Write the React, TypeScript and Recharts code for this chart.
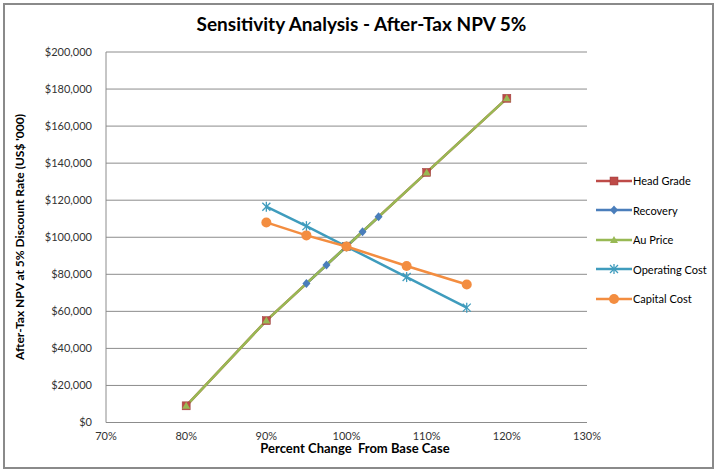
import React from 'react';
import { LineChart, Line, XAxis, YAxis, CartesianGrid, Legend } from 'recharts';

// percent change from base case (x) and after-tax NPV in US$ '000 (y)
const headGradePct = [80, 90, 100, 110, 120];
const headGradeNpv = [9000, 55000, 95000, 135000, 175000];

const recoveryPct = [95, 97.5, 100, 102, 104];
const recoveryNpv = [75000, 85000, 95000, 103000, 111000];

const auPricePct = [80, 90, 100, 110, 120];
const auPriceNpv = [9000, 55000, 95000, 135000, 175000];

const opCostPct = [90, 95, 100, 107.5, 115];
const opCostNpv = [116500, 106000, 95000, 78500, 62000];

const capCostPct = [90, 95, 100, 107.5, 115];
const capCostNpv = [108000, 101000, 95000, 84500, 74500];

const xTicks = [70, 80, 90, 100, 110, 120, 130];
const yTicks = [0, 20000, 40000, 60000, 80000, 100000, 120000, 140000, 160000, 180000, 200000];

const FONT = 'Lato, "Liberation Sans", sans-serif';

type Shape = 'square' | 'diamond' | 'triangle' | 'star' | 'circle';

const toRows = (pct: number[], npv: number[]) => pct.map((p, i) => ({ pct: p, npv: npv[i] }));

const series: { name: string; color: string; shape: Shape; data: { pct: number; npv: number }[] }[] = [
  { name: 'Head Grade', color: '#BE4B48', shape: 'square', data: toRows(headGradePct, headGradeNpv) },
  { name: 'Recovery', color: '#4A7EBB', shape: 'diamond', data: toRows(recoveryPct, recoveryNpv) },
  { name: 'Au Price', color: '#98B954', shape: 'triangle', data: toRows(auPricePct, auPriceNpv) },
  { name: 'Operating Cost', color: '#3F9CBD', shape: 'star', data: toRows(opCostPct, opCostNpv) },
  { name: 'Capital Cost', color: '#F38D40', shape: 'circle', data: toRows(capCostPct, capCostNpv) },
];

function Marker({ shape, color, cx, cy }: { shape: Shape; color: string; cx: number; cy: number }) {
  switch (shape) {
    case 'square':
      return <rect x={cx - 4} y={cy - 4} width={8} height={8} fill={color} stroke="#9a3b39" strokeWidth={0.5} />;
    case 'diamond':
      return <polygon points={`${cx},${cy - 4.5} ${cx + 4},${cy} ${cx},${cy + 4.5} ${cx - 4},${cy}`} fill={color} />;
    case 'triangle':
      return <polygon points={`${cx},${cy - 4} ${cx + 4},${cy + 3} ${cx - 4},${cy + 3}`} fill={color} />;
    case 'star':
      return (
        <g stroke={color} strokeWidth={1.3}>
          <line x1={cx - 4} y1={cy - 4} x2={cx + 4} y2={cy + 4} />
          <line x1={cx - 4} y1={cy + 4} x2={cx + 4} y2={cy - 4} />
          <line x1={cx} y1={cy - 5} x2={cx} y2={cy + 5} />
        </g>
      );
    default:
      return <circle cx={cx} cy={cy} r={5} fill={color} />;
  }
}

const fmtMoney = (v: number) => `$${v.toLocaleString('en-US')}`;

function LegendBox() {
  return (
    <div style={{ fontFamily: FONT, fontSize: 11, color: '#000' }}>
      {series.map(s => (
        <div key={s.name} style={{ display: 'flex', alignItems: 'center', height: 29.5 }}>
          <svg width={36} height={12} style={{ marginRight: 1 }}>
            <line x1={0} y1={6} x2={36} y2={6} stroke={s.color} strokeWidth={2.5} />
            <Marker shape={s.shape} color={s.color} cx={18} cy={6} />
          </svg>
          <span>{s.name}</span>
        </div>
      ))}
    </div>
  );
}

export default function App() {
  return (
    <div style={{ position: 'absolute', left: 0, top: 0, width: 721, height: 476, background: '#fff' }}>
      <div
        style={{
          position: 'absolute', left: 3, top: 3, width: 711, height: 466,
          border: '2px solid #8a8a8a', boxSizing: 'border-box', pointerEvents: 'none',
        }}
      />
      <div
        style={{
          position: 'absolute', left: 0, top: 12, width: 721, textAlign: 'center',
          fontFamily: FONT, fontWeight: 700, fontSize: 19, color: '#000',
        }}
      >
        <span style={{ position: 'relative', left: 1 }}>Sensitivity Analysis - After-Tax NPV 5%</span>
      </div>
      <LineChart
        width={721}
        height={476}
        margin={{ top: 52, right: 10, bottom: 23.5, left: 0 }}
        style={{ position: 'absolute', left: 0, top: 0 }}
      >
        <CartesianGrid vertical={false} stroke="#8c8c8c" strokeWidth={1} />
        <XAxis
          type="number"
          dataKey="pct"
          domain={[70, 130]}
          ticks={xTicks}
          tickFormatter={(v: number) => `${v}%`}
          height={30}
          stroke="#8c8c8c"
          tickLine={false}
          tickSize={4}
          tickMargin={6}
          tick={{ fill: '#333', fontSize: 11, fontFamily: FONT }}
          label={{
            position: 'center',
            content: () => (
              <text
                x={355}
                y={453}
                textAnchor="middle"
                fontFamily={FONT}
                fontWeight={700}
                fontSize={13}
                fill="#000"
                style={{ whiteSpace: 'pre' }}
              >
                Percent Change  From Base Case
              </text>
            ),
          }}
        />
        <YAxis
          type="number"
          dataKey="npv"
          domain={[0, 200000]}
          ticks={yTicks}
          tickFormatter={fmtMoney}
          width={106}
          stroke="#8c8c8c"
          tickLine={false}
          tickSize={6}
          tickMargin={8}
          tick={{ fill: '#333', fontSize: 11, fontFamily: FONT }}
          label={{
            position: 'center',
            content: () => (
              <text
                x={24}
                y={237}
                transform="rotate(-90 24 237)"
                textAnchor="middle"
                fontFamily={FONT}
                fontWeight={700}
                fontSize={12}
                fill="#000"
              >
                After-Tax NPV at 5% Discount Rate (US$ '000)
              </text>
            ),
          }}
        />
        <Legend
          layout="vertical"
          align="right"
          verticalAlign="top"
          content={() => <LegendBox />}
          wrapperStyle={{ left: 596, top: 166, width: 124 }}
        />
        {series.map(s => (
          <Line
            key={s.name}
            data={s.data}
            dataKey="npv"
            name={s.name}
            type="linear"
            stroke={s.color}
            strokeWidth={2.5}
            isAnimationActive={false}
            dot={(p: any) => <Marker key={`${s.name}-${p.index}`} shape={s.shape} color={s.color} cx={p.cx} cy={p.cy} />}
            activeDot={false}
          />
        ))}
      </LineChart>
    </div>
  );
}
